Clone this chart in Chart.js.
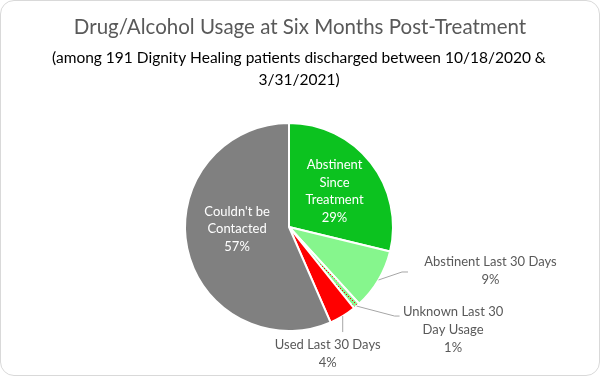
<!DOCTYPE html>
<html>
<head>
<meta charset="utf-8">
<script src="https://cdn.jsdelivr.net/npm/chart.js@4"></script>
<style>
    body { margin: 0; background: #fff; }
    #card {
        width: 600px; height: 376px; box-sizing: border-box;
        border: 1px solid #d9d9d9; border-radius: 14px; overflow: hidden; position: relative;
    }
    #pieChart { position: absolute; left: -1px; top: -1px; }
</style>
</head>
<body>
<div id="card"><canvas id="pieChart" width="600" height="376"></canvas></div>
<script>
// Data <------------------------------------------------------------------------>
const titleText = 'Drug/Alcohol Usage at Six Months Post-Treatment';
const subtitleLines = ['(among 191 Dignity Healing patients discharged between 10/18/2020 &', '3/31/2021)'];
const categories = ['Abstinent Since Treatment', 'Abstinent Last 30 Days', 'Unknown Last 30 Day Usage', 'Used Last 30 Days', "Couldn't be Contacted"];
const patientCounts = [55, 18, 2, 8, 108];
const labelLines = [
    ['Abstinent', 'Since', 'Treatment'],
    ['Abstinent Last 30 Days'],
    ['Unknown Last 30', 'Day Usage'],
    ['Used Last 30 Days'],
    ["Couldn't be", 'Contacted']
];

const FONT = 'Lato, "Open Sans", sans-serif';

// dotted fill for the tiny "unknown" slice
function makeDots() {
    const c = document.createElement('canvas');
    c.width = 4; c.height = 4;
    const g = c.getContext('2d');
    g.fillStyle = '#86f68d';
    g.fillRect(0, 0, 4, 4);
    g.fillStyle = '#ff0000';
    g.fillRect(0, 0, 1, 1);
    g.fillRect(2, 2, 1, 1);
    return g.createPattern(c, 'repeat');
}

// how each label sits (inside = along mid angle, outside = leader line from the rim)
const labelStyle = [
    { inside: true, rf: 0.557, dy: 0 },
    { inside: false, elbow: [23.5, -8], end: [29.5, -8], textX: 112, firstBase: -14 },
    { inside: false, elbow: [38, 10], end: [43, 10], textX: 96.5, firstBase: 10 },
    { inside: false, elbow: [0, 16], end: [0, 16], textX: -15, firstBase: 33 },
    { inside: true, rf: 0.51, dy: -9 }
];

const titlesPlugin = {
    id: 'titles',
    afterDraw(chart) {
        const c = chart.ctx;
        c.save();
        c.textAlign = 'center';
        c.textBaseline = 'alphabetic';
        c.fillStyle = '#595959';
        c.font = '20.5px ' + FONT;
        c.fillText(titleText, 300, 34);
        c.fillStyle = '#000000';
        c.font = '15.5px ' + FONT;
        c.fillText(subtitleLines[0], 299, 63);
        c.fillText(subtitleLines[1], 299, 85);
        c.restore();
    }
};

const sliceLabels = {
    id: 'sliceLabels',
    afterDatasetsDraw(chart) {
        const c = chart.ctx;
        const meta = chart.getDatasetMeta(0);
        const values = chart.data.datasets[0].data;
        const total = values.reduce((a, b) => a + b, 0);
        const lh = 17.5;
        c.save();
        c.font = '13px ' + FONT;
        c.textAlign = 'center';
        c.textBaseline = 'alphabetic';
        meta.data.forEach((arc, i) => {
            const p = arc.getProps(['x', 'y', 'startAngle', 'endAngle', 'outerRadius'], true);
            const mid = (p.startAngle + p.endAngle) / 2;
            const lines = labelLines[i].concat([Math.round(values[i] / total * 100) + '%']);
            const s = labelStyle[i];
            if (s.inside) {
                const cx = p.x + Math.cos(mid) * p.outerRadius * s.rf;
                const cy = p.y + Math.sin(mid) * p.outerRadius * s.rf + s.dy;
                c.fillStyle = '#ffffff';
                const first = cy - (lines.length - 1) * lh / 2 + 4.5;
                lines.forEach((t, k) => c.fillText(t, cx, first + k * lh));
            } else {
                const ex = p.x + Math.cos(mid) * p.outerRadius;
                const ey = p.y + Math.sin(mid) * p.outerRadius;
                c.strokeStyle = '#a6a6a6';
                c.lineWidth = 1;
                c.beginPath();
                c.moveTo(ex, ey);
                c.lineTo(ex + s.elbow[0], ey + s.elbow[1]);
                c.lineTo(ex + s.end[0], ey + s.end[1]);
                c.stroke();
                c.fillStyle = '#595959';
                lines.forEach((t, k) => c.fillText(t, ex + s.textX, ey + s.firstBase + k * 18));
            }
        });
        c.restore();
    }
};

const ctx = document.getElementById('pieChart').getContext('2d');

new Chart(ctx, {
    type: 'pie',
    data: {
        labels: categories,
        datasets: [{
            data: patientCounts,
            backgroundColor: ['#0cc21f', '#86f68d', makeDots(), '#ff0000', '#808080'],
            borderColor: '#ffffff',
            borderWidth: 2
        }]
    },
    options: {
        responsive: false,
        animation: false,
        layout: { padding: { top: 122, bottom: 44, left: 0, right: 22 } },
        plugins: {
            legend: { display: false },
            tooltip: { enabled: false }
        }
    },
    plugins: [titlesPlugin, sliceLabels]
});
</script>
</body>
</html>
